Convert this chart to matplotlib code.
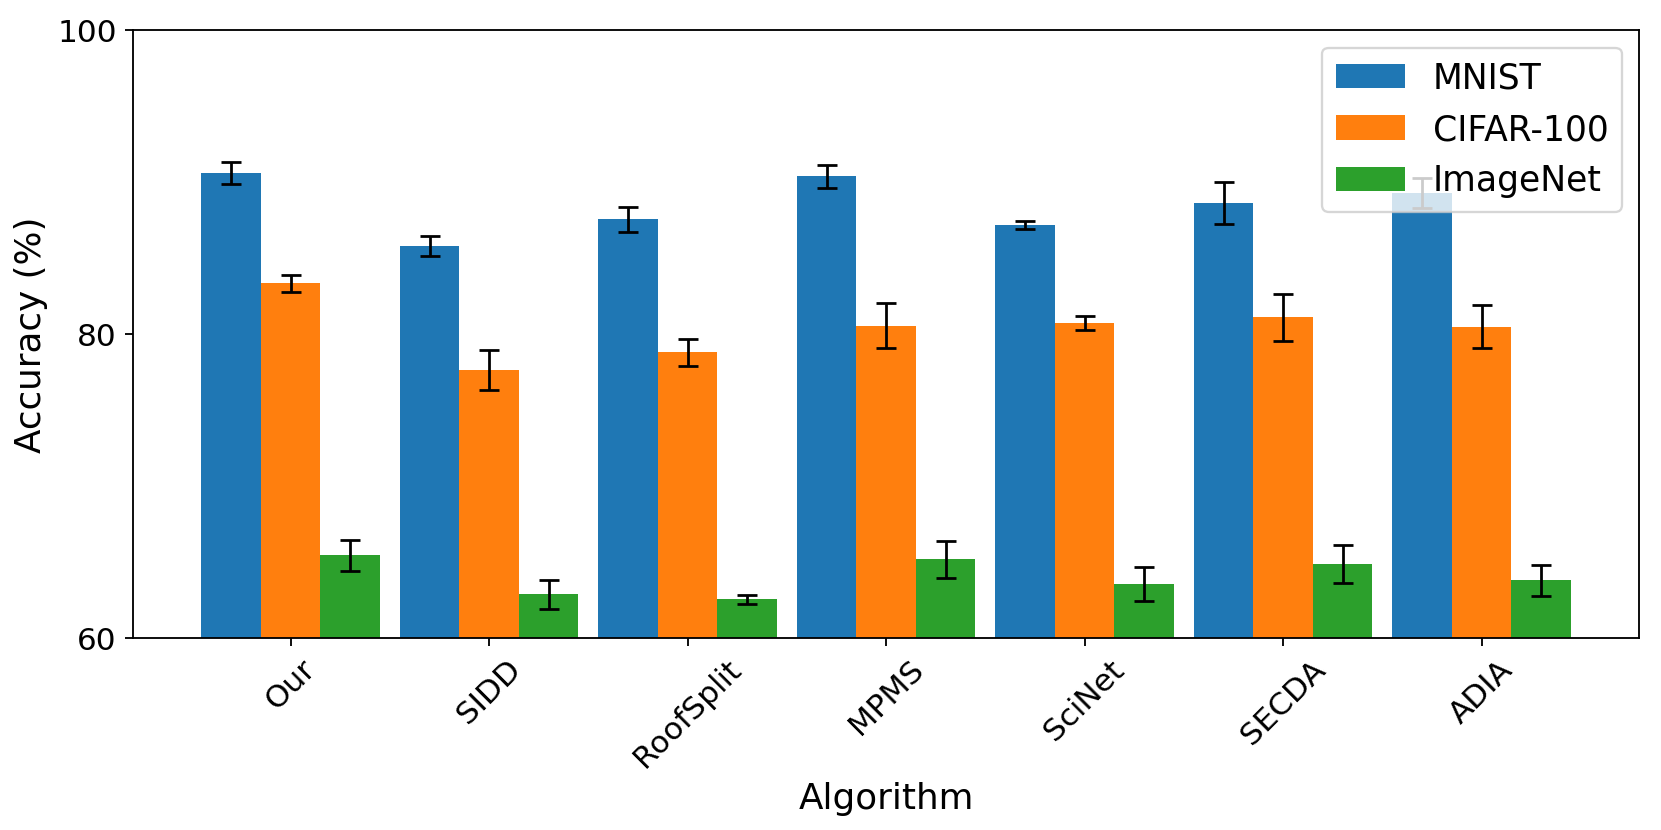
import numpy as np
import matplotlib
matplotlib.use('Agg')
import matplotlib.pyplot as plt

algorithms = ['Our', 'SIDD', 'RoofSplit', 'MPMS', 'SciNet', 'SECDA', 'ADIA']
datasets = ['MNIST', 'CIFAR-100', 'ImageNet']

mnist_mean = [90.6, 85.8, 87.55, 90.4, 87.2, 88.65, 89.3]
mnist_err = [0.72, 0.68, 0.8, 0.75, 0.28, 1.38, 1.0]
cifar_mean = [83.35, 77.65, 78.8, 80.55, 80.75, 81.1, 80.5]
cifar_err = [0.55, 1.32, 0.9, 1.48, 0.47, 1.54, 1.42]
imagenet_mean = [65.45, 62.9, 62.55, 65.2, 63.55, 64.9, 63.8]
imagenet_err = [1.02, 0.95, 0.32, 1.22, 1.12, 1.25, 1.0]

means = [mnist_mean, cifar_mean, imagenet_mean]
errs = [mnist_err, cifar_err, imagenet_err]

fig = plt.figure(figsize=(10, 5), dpi=166.1)
ax = fig.add_axes([0.080, 0.231, 0.907, 0.732])

x = np.arange(len(algorithms))
width = 0.3
for i, name in enumerate(datasets):
    ax.bar(x + (i - 1) * width, means[i], width, yerr=errs[i], capsize=4.5,
           label=name, error_kw={'elinewidth': 1.2, 'capthick': 1.2})

ax.set_ylim(60, 100)
ax.set_yticks([60, 80, 100])
ax.set_xticks(x)
ax.set_xticklabels(algorithms, rotation=45, fontsize=13.5)
ax.tick_params(axis='y', labelsize=13.5)
ax.set_xlabel('Algorithm', fontsize=15.5)
ax.set_ylabel('Accuracy (%)', fontsize=15.5)
ax.legend(loc='upper right', fontsize=15)

fig.savefig('out.png', dpi=166.1)
